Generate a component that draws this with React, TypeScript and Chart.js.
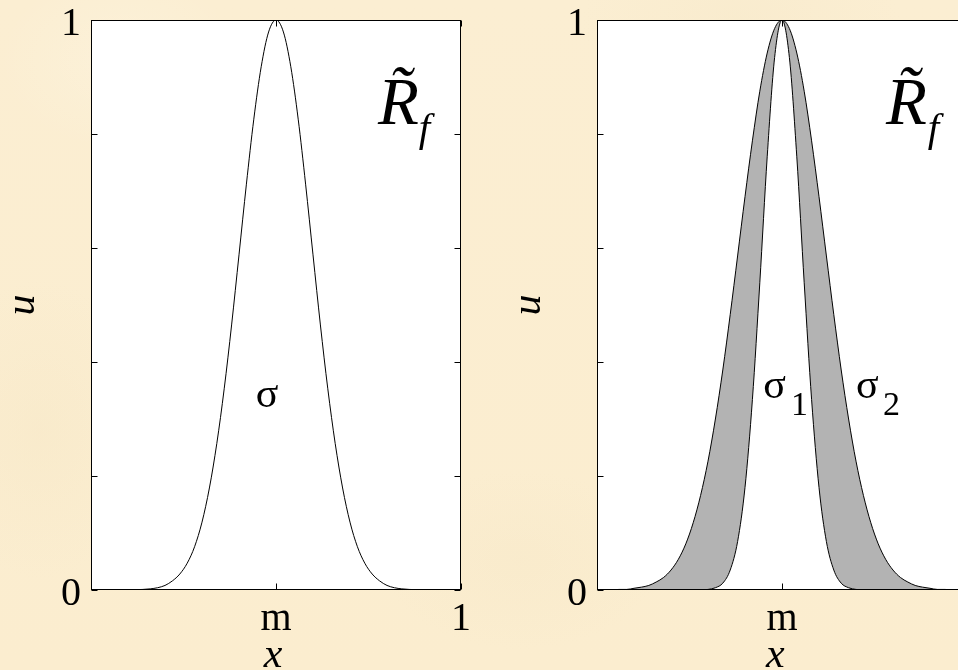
import { useEffect, useRef } from "react";
import { Chart, registerables } from "chart.js";

Chart.register(...registerables);

// Sample positions along x (0 … 1, centre m = 0.5)
const xs = [
  0, 0.02, 0.04, 0.06, 0.08, 0.1, 0.12, 0.14, 0.16, 0.18, 0.2, 0.22, 0.24, 0.26, 0.28, 0.3, 0.32,
  0.34, 0.36, 0.38, 0.4, 0.42, 0.44, 0.46, 0.48, 0.5, 0.52, 0.54, 0.56, 0.58, 0.6, 0.62, 0.64, 0.66,
  0.68, 0.7, 0.72, 0.74, 0.76, 0.78, 0.8, 0.82, 0.84, 0.86, 0.88, 0.9, 0.92, 0.94, 0.96, 0.98, 1,
];

// Membership grade u of the single-width function (left panel)
const uSigma = [
  0, 0, 0, 0, 0, 0, 0.0005, 0.001, 0.002, 0.004, 0.008, 0.016, 0.028, 0.047, 0.076, 0.119, 0.179,
  0.257, 0.353, 0.465, 0.588, 0.712, 0.826, 0.918, 0.979, 1, 0.979, 0.918, 0.826, 0.712, 0.588,
  0.465, 0.353, 0.257, 0.179, 0.119, 0.076, 0.047, 0.028, 0.016, 0.008, 0.004, 0.002, 0.001,
  0.0005, 0, 0, 0, 0, 0, 0,
];

// Narrow (sigma 1) and wide (sigma 2) bounds of the footprint (right panel)
const uSigma1 = [
  0, 0, 0, 0, 0, 0, 0, 0, 0, 0, 0, 0, 0, 0, 0.0002, 0.001, 0.004, 0.012, 0.035, 0.085, 0.18, 0.334,
  0.539, 0.76, 0.934, 1, 0.934, 0.76, 0.539, 0.334, 0.18, 0.085, 0.035, 0.012, 0.004, 0.001,
  0.0002, 0, 0, 0, 0, 0, 0, 0, 0, 0, 0, 0, 0, 0, 0,
];
const uSigma2 = [
  0, 0.0002, 0.0004, 0.001, 0.001, 0.003, 0.005, 0.008, 0.014, 0.022, 0.035, 0.054, 0.081, 0.118,
  0.166, 0.226, 0.3, 0.386, 0.483, 0.586, 0.69, 0.788, 0.875, 0.942, 0.985, 1, 0.985, 0.942, 0.875,
  0.788, 0.69, 0.586, 0.483, 0.386, 0.3, 0.226, 0.166, 0.118, 0.081, 0.054, 0.035, 0.022, 0.014,
  0.008, 0.005, 0.003, 0.001, 0.001, 0.0004, 0.0002, 0,
];

// Axis ticks
const yTickValues = [0, 0.2, 0.4, 0.6, 0.8, 1];
const yTickLabels = ["0", "", "", "", "", "1"];
const xTickValues = [0.5, 1];
const xTickLabels = ["m", "1"];

const SERIF = '"Liberation Serif", "Times New Roman", serif';

type TextItem = { text: string; x: number; y: number; font: string; align?: CanvasTextAlign };

type FrameOpts = {
  xLabelAt: number;
  notes: TextItem[];
};

const framePlugin = {
  id: "frame",
  beforeDraw(chart: any) {
    const { ctx, chartArea: a } = chart;
    ctx.save();
    ctx.fillStyle = "#ffffff";
    ctx.fillRect(a.left, a.top, a.right - a.left, a.bottom - a.top);
    ctx.restore();
  },
  afterDraw(chart: any, _args: any, opts: FrameOpts) {
    const { ctx, chartArea: a, scales } = chart;
    const sx = scales.x;
    const sy = scales.y;
    const L = Math.round(a.left) + 0.5;
    const R = Math.round(a.right) - 0.5;
    const T = Math.round(a.top) + 0.5;
    const B = Math.round(a.bottom) - 0.5;
    ctx.save();
    ctx.strokeStyle = "#000";
    ctx.lineWidth = 1;
    ctx.strokeRect(L, T, R - L, B - T);

    // inward tick marks
    const tl = 6;
    ctx.beginPath();
    yTickValues.forEach((v) => {
      const py = Math.round(sy.getPixelForValue(v)) + 0.5;
      ctx.moveTo(L, py);
      ctx.lineTo(L + tl, py);
      ctx.moveTo(R, py);
      ctx.lineTo(R - tl, py);
    });
    xTickValues.forEach((v) => {
      const px = Math.round(sx.getPixelForValue(v)) + 0.5;
      ctx.moveTo(px, B);
      ctx.lineTo(px, B - tl);
      ctx.moveTo(px, T);
      ctx.lineTo(px, T + tl);
    });
    ctx.stroke();

    ctx.fillStyle = "#000";
    ctx.textBaseline = "alphabetic";

    // tick labels
    ctx.font = `40px ${SERIF}`;
    ctx.textAlign = "right";
    yTickValues.forEach((v, i) => {
      if (!yTickLabels[i]) return;
      ctx.fillText(yTickLabels[i], a.left - 10, sy.getPixelForValue(v) + 15);
    });
    ctx.textAlign = "center";
    xTickValues.forEach((v, i) => {
      ctx.fillText(xTickLabels[i], sx.getPixelForValue(v), a.bottom + 40);
    });

    // axis titles
    ctx.font = `italic 42px ${SERIF}`;
    ctx.fillText("x", sx.getPixelForValue(opts.xLabelAt), a.bottom + 77);
    ctx.save();
    ctx.translate(a.left - 68, sy.getPixelForValue(0.5));
    ctx.rotate(-Math.PI / 2);
    ctx.textBaseline = "middle";
    ctx.fillText("u", 0, 0);
    ctx.restore();

    // in-plot annotations
    opts.notes.forEach((n) => {
      ctx.font = n.font;
      ctx.textAlign = n.align || "left";
      ctx.fillText(n.text, sx.getPixelForValue(n.x), sy.getPixelForValue(n.y));
    });
    ctx.restore();
  },
};

const baseScales = {
  x: { type: "linear", min: 0, max: 1, display: false },
  y: { type: "linear", min: 0, max: 1, display: false },
};

function curve(values: number[], extra: any = {}) {
  return {
    data: xs.map((x, i) => ({ x, y: values[i] })),
    borderColor: "#000",
    borderWidth: 1,
    pointRadius: 0,
    cubicInterpolationMode: "monotone",
    fill: false,
    ...extra,
  };
}

function rTilde(x: number, fx: number): TextItem[] {
  return [
    { text: "R\u0303", x, y: 0.8175, font: `italic 67px ${SERIF}` },
    { text: "f", x: fx, y: 0.787, font: `italic 41px ${SERIF}` },
  ];
}

function Panel(props: {
  left: number;
  width: number;
  pad: { left: number; right: number; top: number; bottom: number };
  datasets: any[];
  frame: FrameOpts;
}) {
  const ref = useRef<HTMLCanvasElement | null>(null);
  useEffect(() => {
    if (!ref.current) return;
    const chart = new Chart(ref.current, {
      type: "line",
      data: { datasets: props.datasets },
      options: {
        animation: false,
        responsive: false,
        devicePixelRatio: 1,
        layout: { padding: props.pad },
        scales: baseScales as any,
        plugins: {
          legend: { display: false },
          tooltip: { enabled: false },
          frame: props.frame,
        } as any,
        events: [],
      },
      plugins: [framePlugin as any],
    });
    return () => chart.destroy();
  }, []);
  return (
    <canvas
      ref={ref}
      width={props.width}
      height={670}
      style={{ position: "absolute", left: props.left, top: 0, width: props.width, height: 670 }}
    />
  );
}

// pale parchment with faint mottling
const parchment = [
  "radial-gradient(ellipse 110px 150px at 40px 430px, rgba(242,226,190,0.25), transparent)",
  "radial-gradient(ellipse 140px 90px at 520px 560px, rgba(243,228,194,0.25), transparent)",
  "radial-gradient(ellipse 160px 80px at 740px 20px, rgba(243,228,194,0.25), transparent)",
  "radial-gradient(ellipse 120px 90px at 120px 60px, rgba(255,250,236,0.25), transparent)",
  "linear-gradient(180deg, #fbeed2, #fbedcf)",
].join(",");

export default function App() {
  return (
    <div
      style={{
        position: "fixed",
        left: 0,
        top: 0,
        width: 958,
        height: 670,
        overflow: "hidden",
        background: parchment,
      }}
    >
      <Panel
        left={0}
        width={479}
        pad={{ left: 91, right: 18, top: 20, bottom: 80 }}
        datasets={[curve(uSigma)]}
        frame={{
          xLabelAt: 0.492,
          notes: [
            ...rTilde(0.776, 0.886),
            { text: "σ", x: 0.476, y: 0.321, font: `42px ${SERIF}`, align: "center" },
          ],
        }}
      />
      <Panel
        left={479}
        width={500}
        pad={{ left: 118, right: 12, top: 20, bottom: 80 }}
        datasets={[
          curve(uSigma1),
          curve(uSigma2, { fill: "-1", backgroundColor: "#b3b3b3" }),
        ]}
        frame={{
          xLabelAt: 0.482,
          notes: [
            ...rTilde(0.781, 0.894),
            { text: "σ", x: 0.449, y: 0.337, font: `42px ${SERIF}` },
            { text: "1", x: 0.524, y: 0.307, font: `34px ${SERIF}` },
            { text: "σ", x: 0.7, y: 0.337, font: `42px ${SERIF}` },
            { text: "2", x: 0.773, y: 0.307, font: `34px ${SERIF}` },
          ],
        }}
      />
    </div>
  );
}
